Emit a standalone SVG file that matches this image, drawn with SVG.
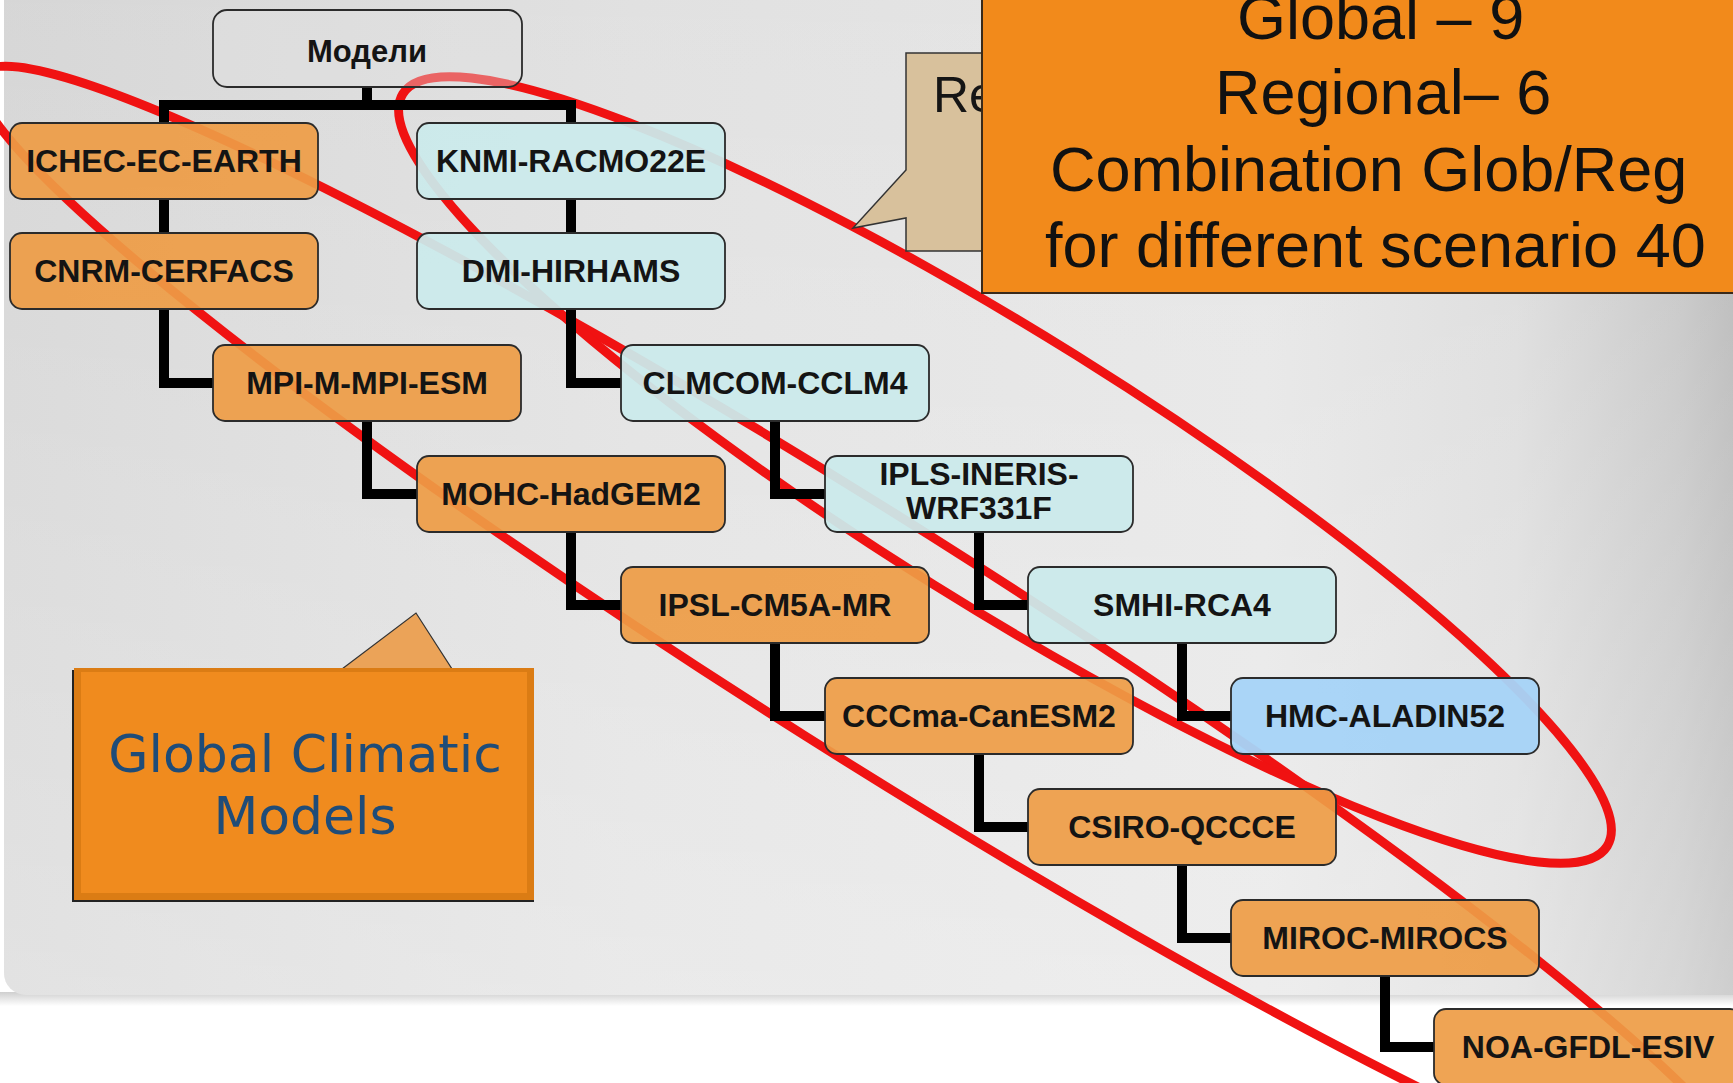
<svg xmlns="http://www.w3.org/2000/svg" width="1733" height="1083" viewBox="0 0 1733 1083">
  <defs>
    <linearGradient id="bgH" x1="0" y1="0" x2="1" y2="0">
      <stop offset="0" stop-color="#D6D6D6"/>
      <stop offset="0.35" stop-color="#E1E1E1"/>
      <stop offset="0.7" stop-color="#E6E6E6"/>
      <stop offset="0.84" stop-color="#DCDCDC"/>
      <stop offset="0.93" stop-color="#C6C6C6"/>
      <stop offset="1" stop-color="#A9A9A9"/>
    </linearGradient>
    <linearGradient id="bgV" x1="0" y1="0" x2="0" y2="1">
      <stop offset="0" stop-color="#FFFFFF" stop-opacity="0"/>
      <stop offset="1" stop-color="#FFFFFF" stop-opacity="0.3"/>
    </linearGradient>
    <linearGradient id="shadow" x1="0" y1="0" x2="0" y2="1">
      <stop offset="0" stop-color="#CFCFCF"/>
      <stop offset="1" stop-color="#FFFFFF"/>
    </linearGradient>
    <style>
      .node rect { stroke:#2b2b2b; stroke-width:1.8; }
      .orange rect { fill:#EE9C45; fill-opacity:0.92; }
      .cyan rect { fill:#CBEAEB; fill-opacity:0.94; }
      .blue rect { fill:#A7D3F7; fill-opacity:0.96; }
      .root rect { fill:#E2E2E2; fill-opacity:0.4; }
      .node text { font-family:"Liberation Sans", Arial, sans-serif; font-weight:bold; font-size:32px; fill:#141414; text-anchor:middle; }
      .conn path { fill:none; stroke:#000; stroke-width:10; }
      .red { fill:none; stroke:#F01212; stroke-width:9; }
      .big text { font-family:"Liberation Sans", Arial, sans-serif; font-size:63px; fill:#111; }
      .gcm text { font-family:"DejaVu Sans", Verdana, sans-serif; font-size:52px; fill:#1F4C78; text-anchor:middle; }
    </style>
  </defs>

  <!-- background -->
  <rect x="0" y="0" width="1733" height="1083" fill="#FFFFFF"/>
  <rect x="0" y="992" width="1733" height="14" fill="url(#shadow)"/>
  <rect x="4" y="-40" width="1800" height="1035" rx="22" fill="url(#bgH)"/>
  <rect x="4" y="-40" width="1800" height="1035" rx="22" fill="url(#bgV)"/>

  <!-- red highlight ellipses -->
  <g id="highlights">
    <ellipse class="red" cx="868" cy="636" rx="1050" ry="118" transform="rotate(32.3 868 636)"/>
    <ellipse class="red" cx="1005" cy="470" rx="710" ry="135" transform="rotate(32 1005 470)"/>
  </g>

  <!-- connectors -->
  <g id="connectors" class="conn">
    <path d="M367,87 V105 M164,123 V105 H571 V123"/>
    <path d="M164,199 V233"/>
    <path d="M164,309 V383 H213"/>
    <path d="M367,421 V494 H417"/>
    <path d="M571,532 V605 H621"/>
    <path d="M775,643 V716 H825"/>
    <path d="M979,754 V827 H1028"/>
    <path d="M1182,865 V938 H1231"/>
    <path d="M1385,976 V1047 H1434"/>
    <path d="M571,199 V233"/>
    <path d="M571,309 V383 H621"/>
    <path d="M775,421 V494 H825"/>
    <path d="M979,532 V605 H1028"/>
    <path d="M1182,643 V716 H1231"/>
  </g>

  <!-- nodes -->
  <g id="n-root" class="node root"><rect x="213" y="10" width="309" height="77" rx="14"/><text x="367" y="62" style="font-size:31px">Модели</text></g>

  <g id="n-ichec" class="node orange"><rect x="10" y="123" width="308" height="76" rx="12"/><text x="164" y="172">ICHEC-EC-EARTH</text></g>
  <g id="n-cnrm" class="node orange"><rect x="10" y="233" width="308" height="76" rx="12"/><text x="164" y="282">CNRM-CERFACS</text></g>
  <g id="n-mpi" class="node orange"><rect x="213" y="345" width="308" height="76" rx="12"/><text x="367" y="394">MPI-M-MPI-ESM</text></g>
  <g id="n-mohc" class="node orange"><rect x="417" y="456" width="308" height="76" rx="12"/><text x="571" y="505">MOHC-HadGEM2</text></g>
  <g id="n-ipsl" class="node orange"><rect x="621" y="567" width="308" height="76" rx="12"/><text x="775" y="616">IPSL-CM5A-MR</text></g>
  <g id="n-cccma" class="node orange"><rect x="825" y="678" width="308" height="76" rx="12"/><text x="979" y="727">CCCma-CanESM2</text></g>
  <g id="n-csiro" class="node orange"><rect x="1028" y="789" width="308" height="76" rx="12"/><text x="1182" y="838">CSIRO-QCCCE</text></g>
  <g id="n-miroc" class="node orange"><rect x="1231" y="900" width="308" height="76" rx="12"/><text x="1385" y="949">MIROC-MIROCS</text></g>
  <g id="n-noa" class="node orange"><rect x="1434" y="1009" width="308" height="76" rx="12"/><text x="1588" y="1058">NOA-GFDL-ESIV</text></g>

  <g id="n-knmi" class="node cyan"><rect x="417" y="123" width="308" height="76" rx="12"/><text x="571" y="172">KNMI-RACMO22E</text></g>
  <g id="n-dmi" class="node cyan"><rect x="417" y="233" width="308" height="76" rx="12"/><text x="571" y="282">DMI-HIRHAMS</text></g>
  <g id="n-clmcom" class="node cyan"><rect x="621" y="345" width="308" height="76" rx="12"/><text x="775" y="394">CLMCOM-CCLM4</text></g>
  <g id="n-ipls" class="node cyan"><rect x="825" y="456" width="308" height="76" rx="12"/><text x="979" y="485">IPLS-INERIS-</text><text x="979" y="519">WRF331F</text></g>
  <g id="n-smhi" class="node cyan"><rect x="1028" y="567" width="308" height="76" rx="12"/><text x="1182" y="616">SMHI-RCA4</text></g>
  <g id="n-hmc" class="node blue"><rect x="1231" y="678" width="308" height="76" rx="12"/><text x="1385" y="727">HMC-ALADIN52</text></g>

  <!-- callout: regional (mostly hidden) -->
  <g id="callout-re">
    <path d="M906,53 H995 V251 H906 V218 L853,228 L906,170 Z" fill="#D8C19C" stroke="#333" stroke-width="1.5"/>
    <text x="933" y="112" font-family="Liberation Sans, Arial, sans-serif" font-size="50" fill="#151515">Re</text>
  </g>

  <!-- summary box -->
  <g id="summary" class="big">
    <rect x="982" y="-10" width="770" height="303" fill="#F28A1B" stroke="#3a2a1a" stroke-width="2"/>
    <text x="1237" y="39">Global – 9</text>
    <text x="1215" y="114">Regional– 6</text>
    <text x="1050" y="191">Combination  Glob/Reg</text>
    <text x="1045" y="267">for different scenario 40</text>
  </g>

  <!-- callout: global climatic models -->
  <g id="callout-gcm" class="gcm">
    <path d="M342,669 L416,613 L452,669 Z" fill="#EBA358" stroke="#333" stroke-width="1.2"/>
    <path d="M73,670 V901 H534" fill="none" stroke="#222" stroke-width="2"/>
    <rect x="74" y="668" width="460" height="232" fill="#DB7C14"/>
    <rect x="81" y="672" width="446" height="221" fill="#F08B1E"/>
    <text x="305" y="772">Global Climatic</text>
    <text x="305" y="834">Models</text>
  </g>
</svg>
